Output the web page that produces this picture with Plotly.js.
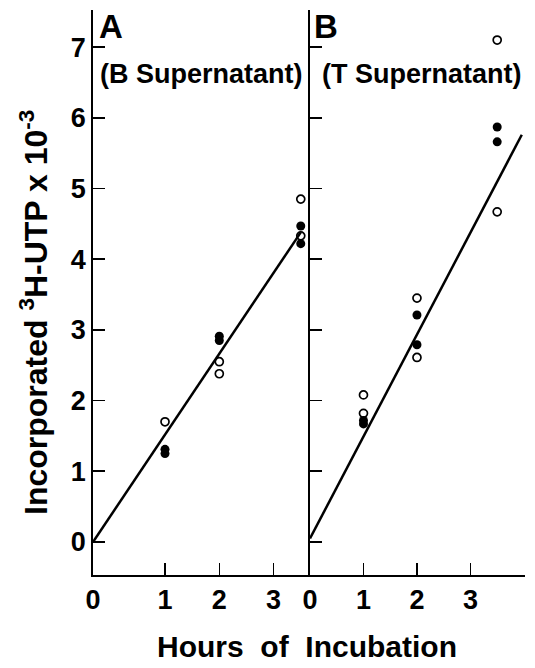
<!DOCTYPE html>
<html>
<head>
<meta charset="utf-8">
<script src="https://cdn.plot.ly/plotly-3.0.1.min.js"></script>
<style>html,body{margin:0;padding:0;background:#fff;}#chart{width:535px;height:668px;}</style>
</head>
<body>
<div id="chart"></div>
<script>
// Panel A (B Supernatant)
const hoursA_open = [1, 2, 2, 3.5, 3.5];
const valuesA_open = [1.70, 2.55, 2.38, 4.85, 4.33];
const hoursA_filled = [1, 1, 2, 2, 3.5, 3.5];
const valuesA_filled = [1.31, 1.25, 2.91, 2.85, 4.47, 4.22];
const lineA_x = [-0.326, 3.5];
const lineA_y = [0, 4.38];

// Panel B (T Supernatant)
const hoursB_open = [1, 1, 2, 2, 3.5, 3.5];
const valuesB_open = [2.08, 1.82, 3.45, 2.61, 7.10, 4.67];
const hoursB_filled = [1, 1, 2, 2, 3.5, 3.5];
const valuesB_filled = [1.72, 1.67, 3.21, 2.79, 5.87, 5.66];
const lineB_x = [0, 3.96];
const lineB_y = [0.05, 5.76];

// Tick labels
const xTickValsA = [-0.326, 1, 2, 3];
const xTickTextA = ['0', '1', '2', '3'];
const xTickValsB = [0, 1, 2, 3];
const xTickTextB = ['0', '1', '2', '3'];
const yTickVals = [0, 1, 2, 3, 4, 5, 6, 7];
const yTickText = ['0', '1', '2', '3', '4', '5', '6', '7'];

const FONT = 'Liberation Sans, Arial, sans-serif';
const openMarker = {symbol: 'circle-open', size: 8, color: '#000', line: {width: 1.7, color: '#000'}};
const fillMarker = {symbol: 'circle', size: 9, color: '#000'};

const traces = [
  {x: lineA_x, y: lineA_y, mode: 'lines', line: {color: '#000', width: 2.5}, xaxis: 'x', yaxis: 'y', hoverinfo: 'skip'},
  {x: hoursA_open, y: valuesA_open, mode: 'markers', marker: openMarker, xaxis: 'x', yaxis: 'y'},
  {x: hoursA_filled, y: valuesA_filled, mode: 'markers', marker: fillMarker, xaxis: 'x', yaxis: 'y'},
  {x: lineB_x, y: lineB_y, mode: 'lines', line: {color: '#000', width: 2.5}, xaxis: 'x2', yaxis: 'y2', hoverinfo: 'skip'},
  {x: hoursB_open, y: valuesB_open, mode: 'markers', marker: openMarker, xaxis: 'x2', yaxis: 'y2'},
  {x: hoursB_filled, y: valuesB_filled, mode: 'markers', marker: fillMarker, xaxis: 'x2', yaxis: 'y2'}
];

const W = 535;
const axisCommon = {
  showgrid: false, zeroline: false, showline: true, linecolor: '#000', linewidth: 1.8,
  ticks: 'inside', ticklen: 12, tickwidth: 1.6, tickcolor: '#000',
  tickfont: {family: FONT, size: 27, color: '#000', weight: 'bold'}, fixedrange: true
};

const layout = {
  width: 535, height: 668,
  margin: {l: 0, r: 0, t: 10, b: 93, pad: 0},
  paper_bgcolor: '#fff', plot_bgcolor: '#fff',
  showlegend: false,
  font: {family: FONT, color: '#000'},
  xaxis: Object.assign({}, axisCommon, {domain: [93 / W, 310 / W], range: [-0.326, 3.67], anchor: 'y',
    tickmode: 'array', tickvals: xTickValsA, ticktext: xTickTextA}),
  xaxis2: Object.assign({}, axisCommon, {domain: [310 / W, 525 / W], range: [0, 4.02], anchor: 'y2',
    tickmode: 'array', tickvals: xTickValsB, ticktext: xTickTextB}),
  yaxis: Object.assign({}, axisCommon, {domain: [0, 1], range: [-0.467, 7.525], anchor: 'x',
    tickmode: 'array', tickvals: yTickVals, ticktext: yTickText}),
  yaxis2: Object.assign({}, axisCommon, {domain: [0, 1], range: [-0.467, 7.525], anchor: 'x2',
    tickmode: 'array', tickvals: yTickVals, ticktext: yTickText, showticklabels: false}),
  annotations: [
    {text: 'A', xref: 'paper', yref: 'paper', x: 97 / W, y: 1 - (27 - 10) / 565, xanchor: 'left', yanchor: 'middle',
      showarrow: false, font: {family: FONT, size: 33, color: '#000', weight: 'bold'}},
    {text: 'B', xref: 'paper', yref: 'paper', x: 312 / W, y: 1 - (27 - 10) / 565, xanchor: 'left', yanchor: 'middle',
      showarrow: false, font: {family: FONT, size: 33, color: '#000', weight: 'bold'}},
    {text: '(B Supernatant)', xref: 'paper', yref: 'paper', x: 98 / W, y: 1 - (74 - 10) / 565, xanchor: 'left', yanchor: 'middle',
      showarrow: false, font: {family: FONT, size: 27, color: '#000', weight: 'bold'}},
    {text: '(T Supernatant)', xref: 'paper', yref: 'paper', x: 320 / W, y: 1 - (74 - 10) / 565, xanchor: 'left', yanchor: 'middle',
      showarrow: false, font: {family: FONT, size: 27, color: '#000', weight: 'bold'}},
    {text: 'Incorporated <sup>3</sup>H-UTP x 10<sup>-3</sup>', xref: 'paper', yref: 'paper', x: 34 / W, y: 1 - (313 - 10) / 565,
      xanchor: 'center', yanchor: 'middle', textangle: -90,
      showarrow: false, font: {family: FONT, size: 32, color: '#000', weight: 'bold'}},
    {text: 'Hours  of  Incubation', xref: 'paper', yref: 'paper', x: 307 / W, y: -(646 - 575) / 565,
      xanchor: 'center', yanchor: 'middle',
      showarrow: false, font: {family: FONT, size: 30, color: '#000', weight: 'bold'}}
  ]
};

Plotly.newPlot('chart', traces, layout, {staticPlot: true, displayModeBar: false});
</script>
</body>
</html>
